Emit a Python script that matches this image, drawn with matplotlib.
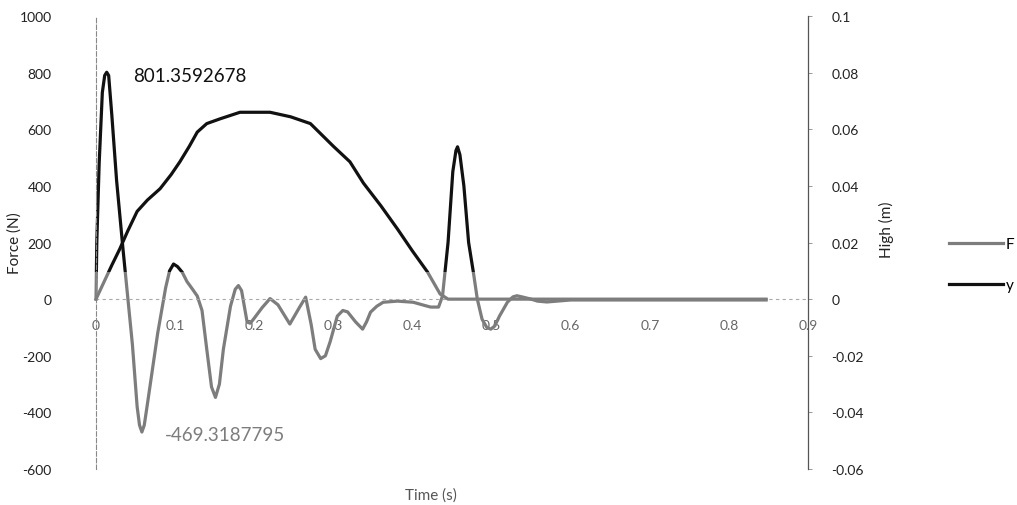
import matplotlib.pyplot as plt
from matplotlib.patches import Rectangle

# Force F (N) vs time
t_force = [0, 0.001, 0.004, 0.008, 0.011, 0.0135, 0.016, 0.020, 0.026, 0.034, 0.046,
           0.052, 0.055, 0.058, 0.061, 0.065, 0.078, 0.088, 0.093, 0.098, 0.103,
           0.109, 0.115, 0.122, 0.128, 0.134, 0.140, 0.146, 0.151, 0.156, 0.161,
           0.170, 0.176, 0.180, 0.184, 0.191, 0.195, 0.199, 0.210, 0.220, 0.230,
           0.245, 0.257, 0.265, 0.272, 0.277, 0.284, 0.290, 0.296, 0.305, 0.312,
           0.318, 0.328, 0.337, 0.342, 0.347, 0.355, 0.363, 0.381, 0.401, 0.415,
           0.423, 0.433, 0.438, 0.445, 0.451, 0.455, 0.457, 0.460, 0.465, 0.471,
           0.477, 0.482, 0.488, 0.494, 0.499, 0.504, 0.510, 0.520, 0.527, 0.532,
           0.540, 0.550, 0.558, 0.570, 0.600, 0.700, 0.800, 0.847]
force = [0, 200, 480, 730, 790, 801.36, 790, 650, 420, 180, -160,
         -380, -445, -469.32, -445, -370, -120, 40, 100, 124, 115,
         95, 62, 35, 11, -40, -177, -310, -347, -300, -177,
         -25, 35, 48, 30, -81, -85, -71, -30, 2, -20,
         -88, -30, 7, -90, -177, -210, -200, -150, -60, -40,
         -45, -80, -106, -80, -46, -25, -11, -7, -11, -22,
         -28, -28, 11, 200, 450, 525, 538, 510, 400, 200,
         95, 0, -71, -100, -106, -95, -60, -11, 8, 12,
         7, 0, -7, -10, -3, -3, -3, -3]

# Height y (m) vs time
t_high = [0, 0.01, 0.02, 0.03, 0.04, 0.052, 0.065, 0.081, 0.095, 0.106, 0.118,
          0.128, 0.14, 0.157, 0.182, 0.20, 0.22, 0.246, 0.271, 0.30, 0.321,
          0.338, 0.36, 0.381, 0.40, 0.419, 0.435, 0.445, 0.5, 0.6, 0.7, 0.8, 0.847]
high = [0, 0.006, 0.012, 0.0177, 0.024, 0.031, 0.035, 0.039, 0.044, 0.0485, 0.054,
        0.059, 0.062, 0.0637, 0.066, 0.066, 0.066, 0.0644, 0.062, 0.054, 0.0485,
        0.041, 0.033, 0.0248, 0.017, 0.0096, 0.0018, 0, 0, 0, 0, 0, 0]

force_ticks = [-600, -400, -200, 0, 200, 400, 600, 800, 1000]
high_ticks = [-0.06, -0.04, -0.02, 0, 0.02, 0.04, 0.06, 0.08, 0.1]
high_labels = ['-0.06', '-0.04', '-0.02', '0', '0.02', '0.04', '0.06', '0.08', '0.1']
time_ticks = [0, 0.1, 0.2, 0.3, 0.4, 0.5, 0.6, 0.7, 0.8, 0.9]
time_labels = ['0', '0.1', '0.2', '0.3', '0.4', '0.5', '0.6', '0.7', '0.8', '0.9']

GREY = '#7d7d7d'
DARK = '#111111'
# in the scan everything above roughly this force level came out black
SPLIT_F = 95
SPLIT_H = 0.0095

plt.rcParams['font.family'] = ['Lato', 'DejaVu Sans']

fig = plt.figure(figsize=(10.17, 5.06), dpi=100)
ax = fig.add_axes([0.0944, 0.0711, 0.7001, 0.8953])
ax2 = ax.twinx()

ax.set_xlim(0, 0.9)
ax.set_ylim(-600, 1000)
ax2.set_ylim(-0.06, 0.1)


def two_tone(axis, x, y, split, lw):
    # grey part under the split, black part above it
    lo = axis.plot(x, y, color=GREY, lw=lw, solid_joinstyle='round')[0]
    hi = axis.plot(x, y, color=DARK, lw=lw, solid_joinstyle='round')[0]
    lo.set_clip_path(Rectangle((-1, -10000), 3, split + 10000, transform=axis.transData))
    hi.set_clip_path(Rectangle((-1, split), 3, 10000, transform=axis.transData))
    return lo, hi


h_lo, h_hi = two_tone(ax2, t_high, high, SPLIT_H, 2.3)
f_lo, f_hi = two_tone(ax, t_force, force, SPLIT_F, 2.3)

# axes styling
ax.spines['top'].set_visible(False)
ax2.spines['top'].set_visible(False)
ax.spines['right'].set_visible(False)
ax2.spines['left'].set_visible(False)
ax2.spines['bottom'].set_visible(False)
ax.spines['bottom'].set_position(('data', 0))
ax.spines['bottom'].set_color('#aaaaaa')
ax.spines['bottom'].set_linestyle((0, (2, 4)))
ax.spines['bottom'].set_linewidth(0.8)
ax.spines['left'].set_color('#888888')
ax.spines['left'].set_linestyle((0, (4, 2)))
ax.spines['left'].set_linewidth(0.8)
ax2.spines['right'].set_color('#555555')
ax2.spines['right'].set_linewidth(0.9)

ax.set_yticks(force_ticks)
ax.set_yticklabels([str(v) for v in force_ticks])
ax.set_xticks(time_ticks)
ax.set_xticklabels(time_labels)
ax2.set_yticks(high_ticks)
ax2.set_yticklabels(high_labels)

ax.tick_params(axis='y', length=0, pad=32, labelsize=10, labelcolor='#222222')
ax.tick_params(axis='x', length=0, pad=14, labelsize=10, labelcolor='#666666')
ax2.tick_params(axis='y', length=3, width=0.6, color='#888888', pad=14,
                labelsize=10, labelcolor='#222222')

ax.set_xlabel('Time (s)', fontsize=11, color='#555555')
ax.xaxis.set_label_coords(0.47, -0.04)
ax.set_ylabel('Force (N)', fontsize=11, color='#222222')
ax.yaxis.set_label_coords(-0.105, 0.5)
ax2.set_ylabel('High (m)', fontsize=11, color='#222222')
ax2.yaxis.set_label_coords(1.10, 0.53)

# peak values
ax.text(0.047, 790, '801.3592678', fontsize=13.5, color=DARK, va='center', ha='left')
ax.text(0.087, -478, '-469.3187795', fontsize=13.5, color=GREY, va='center', ha='left')

fig.legend([f_lo, h_hi], ['F', 'y'], loc='center left', bbox_to_anchor=(0.92, 0.475),
           frameon=False, fontsize=11, handlelength=3.5, handletextpad=0.2,
           labelspacing=1.8)

fig.savefig('out.png', dpi=100)
